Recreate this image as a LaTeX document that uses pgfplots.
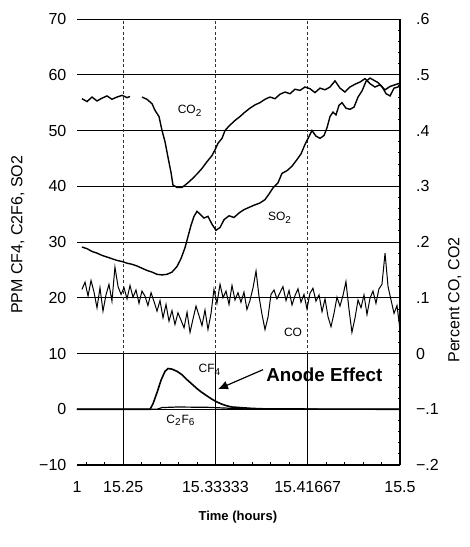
\documentclass[border=0pt]{standalone}
\usepackage{fontspec}
\setmainfont{Liberation Sans}
\usepackage{pgfplots}
\pgfplotsset{compat=1.18}
\usetikzlibrary{arrows.meta}
\begin{document}
\begin{tikzpicture}[x=1pt,y=1pt]
\useasboundingbox (-38.5,-41) rectangle (196.5,232.5);
\begin{axis}[
  at={(0,0)}, anchor=south west,
  scale only axis, width=161.5pt, height=223pt,
  xmin=15.20833, xmax=15.5, ymin=-10, ymax=70,
  axis x line*=bottom, axis y line*=left,
  y axis line style={draw=none},
  x axis line style={line width=0.6pt},
  xtick={15.20833,15.25,15.33333,15.41667,15.5},
  xticklabels={1,15.25,15.33333,15.41667,15.5},
  minor xtick={15.21667,15.23333,15.26667,15.28333,15.3,15.31667,15.35,15.36667,15.38333,15.4,15.43333,15.45,15.46667,15.48333},
  ytick={-10,0,10,20,30,40,50,60,70},
  yticklabels={−10,0,10,20,30,40,50,60,70},
  ymajorgrids, grid style={black, line width=0.5pt},
  major tick length=0pt, minor tick length=1.5pt, tick align=inside,
  tick style={black, line width=0.4pt},
  ticklabel style={font=\fontsize{8}{9}\selectfont},
  xticklabel style={yshift=-4.5pt},
  yticklabel style={xshift=-1.8pt},
  /pgf/number format/assume math mode=true,
  xlabel={Time (hours)},
  xlabel style={at={(rel axis cs:0.498,-0.117)}, anchor=center, font=\bfseries\fontsize{6.5}{7}\selectfont},
  ylabel={PPM CF4, C2F6, SO2},
  ylabel style={at={(rel axis cs:-0.183,0.516)}, anchor=center, font=\fontsize{8}{9}\selectfont},
  clip=false,
]
% vertical reference lines
\draw[black!80, line width=0.45pt, dash pattern=on 1.5pt off 1.2pt] (axis cs:15.25,10) -- (axis cs:15.25,70);
\draw[black!80, line width=0.45pt, dash pattern=on 1.5pt off 1.2pt] (axis cs:15.33333,10) -- (axis cs:15.33333,70);
\draw[black!80, line width=0.45pt, dash pattern=on 1.5pt off 1.2pt] (axis cs:15.41667,10) -- (axis cs:15.41667,70);
\draw[black, line width=0.6pt] (axis cs:15.25,-10) -- (axis cs:15.25,10);
\draw[black, line width=0.5pt] (axis cs:15.33333,-10) -- (axis cs:15.33333,10);
\draw[black, line width=0.5pt] (axis cs:15.41667,-10) -- (axis cs:15.41667,10);
% SO2
\addplot[black, line width=0.7pt] coordinates {
(15.2128,29.1)(15.2174,28.8)(15.2219,28.3)(15.2264,28.0)(15.2309,27.6)(15.2354,27.3)
(15.2399,27.0)(15.2444,26.7)(15.2490,26.5)(15.2535,26.2)(15.2580,26.0)(15.2625,25.7)
(15.2670,25.3)(15.2715,24.9)(15.2761,24.6)(15.2806,24.2)(15.2851,24.1)(15.2896,24.2)
(15.2941,24.6)(15.2986,25.6)(15.3022,27.0)(15.3059,29.0)(15.3086,31.0)(15.3113,33.0)
(15.3140,34.6)(15.3167,35.5)(15.3194,35.0)(15.3230,34.3)(15.3266,34.6)(15.3302,33.2)
(15.3338,32.1)(15.3375,32.6)(15.3411,34.0)(15.3456,34.7)(15.3501,34.4)(15.3546,35.2)
(15.3591,35.8)(15.3636,36.2)(15.3682,36.6)(15.3736,37.0)(15.3781,37.6)(15.3817,38.6)
(15.3853,39.7)(15.3898,40.6)(15.3934,42.3)(15.3980,42.8)(15.4025,43.6)(15.4070,44.8)
(15.4106,45.8)(15.4142,47.5)(15.4178,48.9)(15.4205,50.0)(15.4241,49.0)(15.4278,48.6)
(15.4314,49.1)(15.4341,50.5)(15.4368,52.5)(15.4395,53.3)(15.4422,52.8)(15.4449,54.5)
(15.4476,55.0)(15.4512,54.0)(15.4548,53.8)(15.4585,54.2)(15.4621,56.0)(15.4657,57.1)
(15.4693,58.8)(15.4729,59.4)(15.4765,59.0)(15.4801,58.6)(15.4837,57.9)(15.4874,56.6)
(15.4910,56.2)(15.4946,57.6)(15.4982,57.8)(15.5000,58.3)
};
% CF4
\addplot[black, line width=0.8pt] coordinates {
(15.20833,0)(15.2743,0)(15.2770,1.0)(15.2806,3.0)(15.2842,5.2)(15.2878,6.8)(15.2905,7.3)
(15.2941,7.2)(15.2986,6.8)(15.3031,6.2)(15.3077,5.3)(15.3122,4.5)(15.3167,3.7)
(15.3212,3.0)(15.3257,2.4)(15.3302,1.8)(15.3347,1.3)(15.3393,0.9)(15.3438,0.6)
(15.3483,0.4)(15.3555,0.3)(15.3664,0.15)(15.3799,0.05)(15.5,0)
};
% C2F6
\addplot[black, line width=0.6pt] coordinates {
(15.20833,0)(15.2806,0)(15.2851,0.3)(15.2986,0.4)(15.3257,0.35)(15.3438,0.2)(15.3618,0.05)(15.5,0)
};
% labels
\node[font=\fontsize{6}{7}\selectfont] at (axis cs:15.3104,53.6) {CO\textsubscript{2}};
\node[font=\fontsize{6}{7}\selectfont] at (axis cs:15.3916,34.3) {SO\textsubscript{2}};
\node[font=\fontsize{6}{7}\selectfont] at (axis cs:15.4034,13.75) {CO};
\node[font=\fontsize{6}{7}\selectfont] at (axis cs:15.3284,7.1) {CF\textsubscript{4}};
\node[font=\fontsize{6}{7}\selectfont] at (axis cs:15.3022,-2.0) {C\textsubscript{2}F\textsubscript{6}};
\node[anchor=west, inner sep=0pt, font=\bfseries\fontsize{9.4}{11}\selectfont] at (axis cs:15.3790,6.25) {Anode Effect};
\draw[black, line width=0.6pt, -{Latex[length=5pt,width=4.5pt]}] (axis cs:15.3763,7.1) -- (axis cs:15.3356,3.6);
\end{axis}
\begin{axis}[
  at={(0,0)}, anchor=south west,
  scale only axis, width=161.5pt, height=223pt,
  xmin=15.20833, xmax=15.5, ymin=-0.2, ymax=0.6,
  axis x line=none, axis y line*=right,
  y axis line style={line width=0.6pt},
  ytick={-0.2,-0.1,0,0.1,0.2,0.3,0.4,0.5,0.6},
  yticklabels={−.2,−.1,0,.1,.2,.3,.4,.5,.6},
  minor y tick num=4,
  major tick length=2pt, minor tick length=1.2pt, tick align=inside,
  tick style={black, line width=0.4pt},
  yticklabel style={anchor=west, xshift=4.5pt, font=\fontsize{8}{9}\selectfont},
  ylabel={Percent CO, CO2},
  ylabel style={at={(rel axis cs:1.17,0.37)}, anchor=center, rotate=0, font=\fontsize{8}{9}\selectfont},
  unbounded coords=jump,
]
% CO2
\addplot[black, line width=0.7pt] coordinates {
(15.2128,.457)(15.2174,.452)(15.2219,.460)(15.2264,.453)(15.2309,.458)(15.2354,.462)
(15.2399,.456)(15.2444,.460)(15.2490,.463)(15.2535,.459)(15.2562,.461)(15.2600,nan)
(15.2670,.460)(15.2715,.456)(15.2761,.448)(15.2788,.436)(15.2824,.425)(15.2851,.400)
(15.2878,.380)(15.2905,.352)(15.2932,.325)(15.2950,.302)(15.2986,.298)(15.3031,.298)
(15.3059,.302)(15.3095,.308)(15.3122,.313)(15.3167,.322)(15.3212,.332)(15.3257,.344)
(15.3302,.355)(15.3329,.365)(15.3356,.377)(15.3393,.386)(15.3420,.400)(15.3456,.408)
(15.3510,.418)(15.3555,.425)(15.3600,.433)(15.3645,.440)(15.3691,.446)(15.3736,.450)
(15.3781,.456)(15.3826,.460)(15.3871,.457)(15.3916,.465)(15.3962,.469)(15.4007,.466)
(15.4052,.474)(15.4097,.472)(15.4142,.478)(15.4187,.475)(15.4232,.468)(15.4278,.476)
(15.4323,.473)(15.4368,.478)(15.4413,.489)(15.4458,.476)(15.4503,.469)(15.4548,.478)
(15.4594,.483)(15.4639,.487)(15.4684,.493)(15.4729,.484)(15.4774,.478)(15.4819,.482)
(15.4865,.473)(15.4910,.479)(15.4955,.482)(15.5000,.485)
};
% CO
\addplot[black, line width=0.5pt] coordinates {
(15.2128,.115)(15.2156,.128)(15.2183,.103)(15.2210,.131)(15.2237,.110)(15.2264,.082)
(15.2291,.118)(15.2318,.076)(15.2345,.105)(15.2372,.124)(15.2399,.094)(15.2426,.155)
(15.2454,.120)(15.2481,.106)(15.2508,.118)(15.2535,.098)(15.2562,.122)(15.2589,.101)
(15.2616,.114)(15.2643,.090)(15.2670,.112)(15.2697,.103)(15.2724,.086)(15.2752,.109)
(15.2779,.093)(15.2806,.076)(15.2833,.095)(15.2860,.064)(15.2887,.088)(15.2914,.058)
(15.2941,.077)(15.2968,.052)(15.2995,.073)(15.3022,.060)(15.3050,.046)(15.3077,.074)
(15.3104,.038)(15.3131,.062)(15.3158,.085)(15.3185,.068)(15.3212,.050)(15.3239,.078)
(15.3266,.043)(15.3293,.071)(15.3320,.115)(15.3347,.090)(15.3375,.124)(15.3402,.100)
(15.3429,.112)(15.3456,.088)(15.3483,.122)(15.3510,.096)(15.3537,.109)(15.3564,.092)
(15.3591,.110)(15.3618,.079)(15.3645,.095)(15.3673,.118)(15.3700,.148)(15.3727,.102)
(15.3754,.070)(15.3781,.043)(15.3808,.065)(15.3835,.106)(15.3862,.114)(15.3889,.098)
(15.3916,.109)(15.3943,.120)(15.3971,.095)(15.3998,.113)(15.4025,.087)(15.4052,.104)
(15.4079,.116)(15.4106,.092)(15.4133,.106)(15.4160,.080)(15.4187,.108)(15.4214,.117)
(15.4241,.094)(15.4269,.105)(15.4296,.075)(15.4323,.098)(15.4350,.066)(15.4377,.048)
(15.4404,.072)(15.4431,.101)(15.4458,.085)(15.4485,.104)(15.4512,.129)(15.4539,.080)
(15.4566,.038)(15.4594,.064)(15.4621,.096)(15.4648,.082)(15.4675,.105)(15.4702,.070)
(15.4729,.099)(15.4756,.112)(15.4783,.090)(15.4810,.116)(15.4837,.124)(15.4865,.180)
(15.4892,.120)(15.4919,.096)(15.4946,.072)(15.4973,.086)(15.5000,.043)
};
\end{axis}
\end{tikzpicture}
\end{document}
